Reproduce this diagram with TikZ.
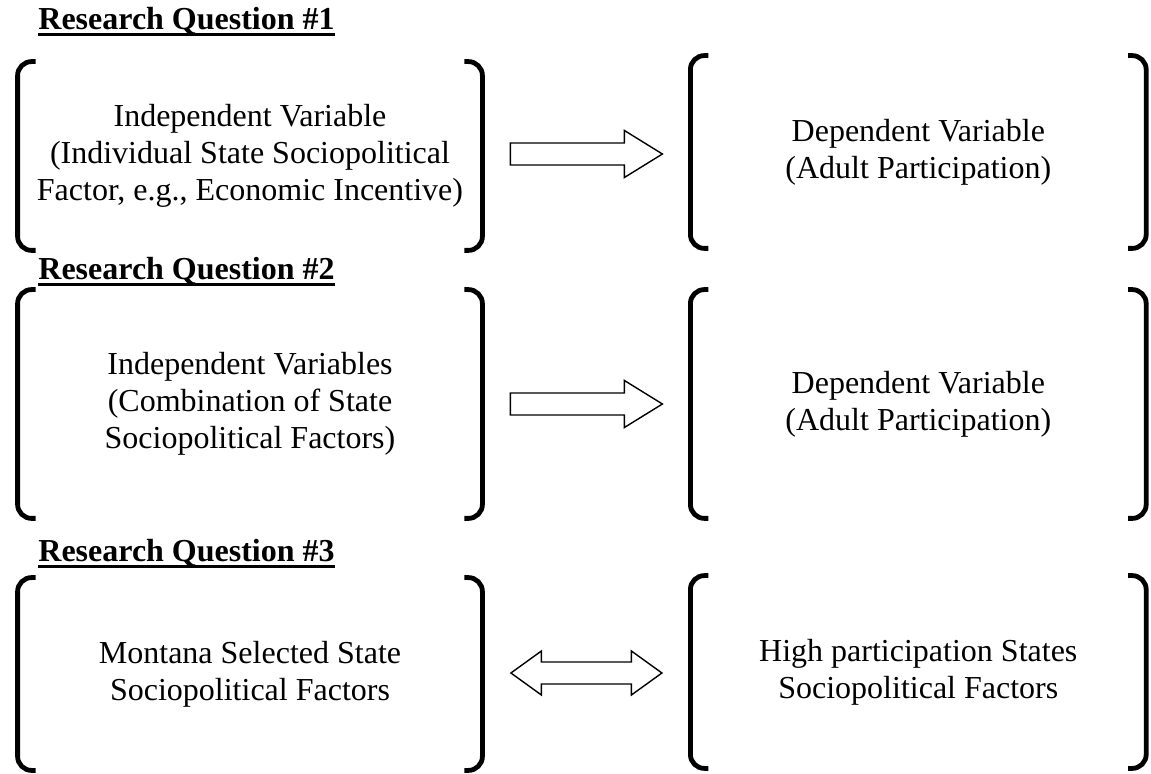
\documentclass[tikz,border=0pt]{standalone}
\usepackage{fontspec}
\setmainfont{Liberation Serif}
\usetikzlibrary{positioning,calc}

\begin{document}
\begin{tikzpicture}[x=0.5pt,y=-0.5pt,
varbox/.style={align=center, inner sep=0pt, font=\fontsize{16}{18.4}\selectfont},
leftbox/.style={varbox, minimum width=232pt},
rightbox/.style={varbox, minimum width=227.5pt},
heading/.style={inner sep=0pt, anchor=base west, font=\fontsize{16}{18.4}\selectfont\bfseries},
bracket/.style={line width=2.4pt, rounded corners=7pt},
uline/.style={line width=1.6pt},
blockarrow/.style={draw=black, line width=0.7pt, fill=white},
]
\useasboundingbox (0,0) rectangle (1151,774);

% Research question 1
\node[heading] (rq1) at (38,30) {Research Question \#1};
\node[leftbox, minimum height=94pt] (iv1) at (250,156)
  {Independent Variable\\(Individual State Sociopolitical\\Factor, e.g., Economic Incentive)};
\node[rightbox, minimum height=96pt, right=104pt of iv1, yshift=2pt] (dv1)
  {Dependent Variable\\(Adult Participation)};

% Research question 2
\node[heading] (rq2) at (38,280) {Research Question \#2};
\node[leftbox, minimum height=114pt] (iv2) at (250,404)
  {Independent Variables\\(Combination of State\\Sociopolitical Factors)};
\node[rightbox, minimum height=114pt, right=104pt of iv2] (dv2)
  {Dependent Variable\\(Adult Participation)};

% Research question 3
\node[heading] (rq3) at (38,562) {Research Question \#3};
\node[leftbox, minimum height=96pt] (ms3) at (250,674)
  {Montana Selected State\\Sociopolitical Factors};
\node[rightbox, minimum height=96pt, right=104pt of ms3, yshift=1pt] (hp3)
  {High participation States\\Sociopolitical Factors};

% underlines
\foreach \h in {rq1,rq2,rq3}
  \draw[uline] ([yshift=-2.2pt]\h.base west) -- ([yshift=-2.2pt]\h.base east);

% brackets round each box
\foreach \b in {iv1,dv1,iv2,dv2,ms3,hp3} {
  \draw[bracket] ([xshift=9pt]\b.north west) -- (\b.north west)
    -- (\b.south west) -- ([xshift=9pt]\b.south west);
  \draw[bracket] ([xshift=-9pt]\b.north east) -- (\b.north east)
    -- (\b.south east) -- ([xshift=-9pt]\b.south east);
}

% block arrows between the boxes
\coordinate (a1) at ($(iv1.east)!0.5!(dv1.west)$);
\coordinate (a2) at ($(iv2.east)!0.5!(dv2.west)$);
\coordinate (a3) at ($(ms3.east)!0.5!(hp3.west)$);
\foreach \a in {a1,a2}
  \draw[blockarrow, shift={(\a)}] (-76,-11) -- (38,-11) -- (38,-23.5) -- (76,0)
    -- (38,23.5) -- (38,11) -- (-76,11) -- cycle;
\draw[blockarrow, shift={(a3)}] (-45,-11) -- (45,-11) -- (45,-22) -- (75.5,0)
  -- (45,22) -- (45,11) -- (-45,11) -- (-45,22) -- (-75.5,0) -- (-45,-22) -- cycle;

\end{tikzpicture}
\end{document}
